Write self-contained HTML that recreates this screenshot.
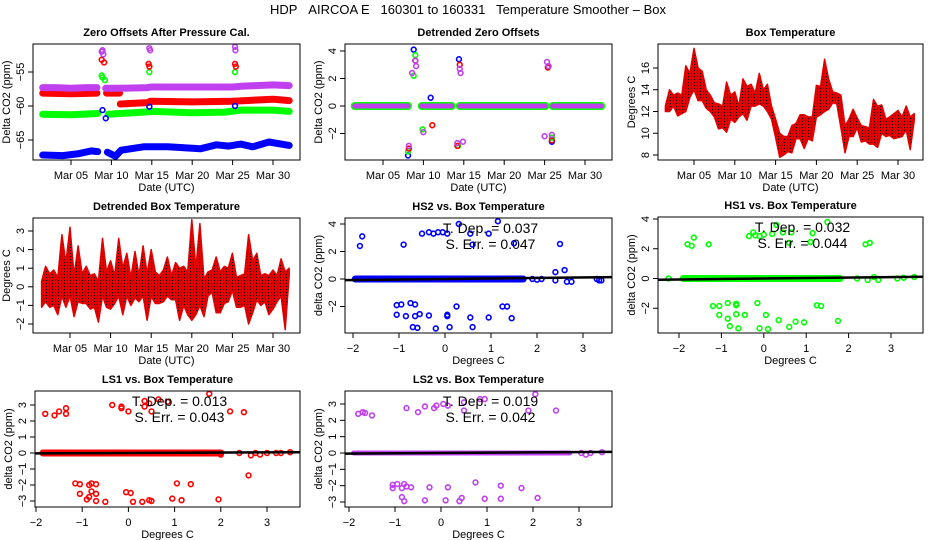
<!DOCTYPE html>
<html><head><meta charset="utf-8"><style>
html,body{margin:0;padding:0;background:#fff;}
svg{display:block;font-family:"Liberation Sans",sans-serif;}
</style></head><body>
<svg id="fig" width="936" height="540" viewBox="0 0 936 540">
<defs>
<pattern id="hatch" width="3" height="3" patternUnits="userSpaceOnUse"><rect width="3" height="3" fill="#e00000"/><rect x="1" y="1" width="1" height="1" fill="#000"/></pattern>
</defs>
<text x="468" y="14" text-anchor="middle" font-size="13">HDP&#160;&#160;&#160;AIRCOA E&#160;&#160;&#160;160301 to 160331&#160;&#160;&#160;Temperature Smoother – Box</text>
</svg>
<script>
// ---------- Data ----------
const dateTicks = [5,10,15,20,25,30];
const dateTickLabels = ["Mar 05","Mar 10","Mar 15","Mar 20","Mar 25","Mar 30"];
// Panel 1: zero offsets
const zMagX = [1.5,3,5,7,8.2,null,9.3,11,14.5,14.9,20,25,26,30,32];
const zMagY = [-57.3,-57.3,-57.4,-57.3,-57.3,null,-57.4,-57.4,-57.3,-57.2,-57.2,-57.2,-57.1,-56.9,-57.0];
const zRedX = [1.5,5,8.2,null,9.4,11,null,11.1,14.5,null,14.8,20,25,30,32];
const zRedY = [-58.1,-58.2,-58.1,null,-58.1,-58.1,null,-59.7,-59.5,null,-59.3,-59.4,-59.3,-59.0,-59.2];
const zGrnX = [1.5,5,8.3,null,9.6,14,15,20,24,26,30,32];
const zGrnY = [-61.2,-61.3,-61.1,null,-61.2,-60.9,-60.8,-61.0,-60.9,-60.6,-60.6,-60.8];
const zBluX = [1.5,4,6,7.5,8.3,null,9.5,10.5,11.2,14,17,21,23,24.5,26,27.5,29.5,32];
const zBluY = [-67.2,-67.3,-67.0,-66.6,-66.7,null,-66.8,-67.4,-66.5,-66.0,-66.0,-66.3,-65.7,-65.9,-65.6,-66.0,-65.3,-65.8];
const zSpkMagX=[8.8,8.9,9.0,14.7,14.8,25.3,25.35]; const zSpkMagY=[-52,-51.8,-52.4,-51.5,-51.8,-51.3,-51.8];
const zSpkRedX=[8.8,9.1,14.6,14.7,25.3,25.4]; const zSpkRedY=[-53.2,-53.6,-53.8,-54.2,-53.8,-54.2];
const zSpkGrnX=[8.8,8.9,9.2,14.7,25.3]; const zSpkGrnY=[-55.5,-55.8,-56.2,-55.0,-55.0];
const zSpkBluX=[8.9,9.3,14.7,25.3]; const zSpkBluY=[-60.6,-61.8,-60.1,-60.0];
// Panel 2: detrended zero offsets
const dzSegStart=[1.5,9.8,14.5,26.0]; const dzSegEnd=[8.1,13.5,25.1,32.0];
const dzBluX=[8.1,8.8,14.4,10.9,25.9]; const dzBluY=[-3.6,4.1,3.4,0.6,-2.6];
const dzGrnX=[8.1,8.8,9.0,9.9,14.3,25.9]; const dzGrnY=[-3.3,2.2,3.7,-1.7,-2.9,-2.3];
const dzRedX=[8.2,9.0,11.1,14.5,14.2,25.4,25.9]; const dzRedY=[-3.1,3.3,-1.4,3.0,-2.9,2.8,-2.5];
const dzMagX=[8.2,8.6,9.0,9.1,10.0,14.5,14.6,14.9,14.2,25.3,25.5,25.0,25.9]; const dzMagY=[-2.9,2.4,3.3,2.9,-1.9,2.7,2.4,-2.6,-2.7,3.2,2.9,-2.2,-2.1];
// Panel 3: box temperature (half-day low/high), days 1.5..32
const btLo=[12,12,12.5,11.6,11.8,12,13.3,14,13,13,12.3,12,11.5,10.4,10.5,10.1,11.3,11,11.5,11.8,11.2,12.5,12.5,12.7,12.5,12,11.3,9.6,7.8,8,8.3,8.2,9.5,9.5,8.6,9.5,9.3,11.5,11.7,12,12.2,12.8,12.7,10.5,8.2,9.7,9.7,10.5,9.2,9.3,9,9,8.7,10,9.7,9.8,9.5,9.6,9.7,10.3,8.5,11.2];
const btHi=[12.5,14,13.5,13.7,13.5,16.2,15.5,17.8,16,15.7,14,13.5,12.8,12.7,12.5,14.7,13.5,13.8,12.5,15,14.3,14.5,13.7,15.5,14,14.5,12.5,11.3,10,9.7,9.7,10.7,10.9,11.7,11.7,11.5,11.5,14.4,14.3,16.8,15,13.8,13.7,13.5,10.7,11.3,12.2,11.4,10.7,10.6,10.5,13.1,12.5,12.6,11.3,11.5,11.8,12.1,11.5,12.5,11.5,11.8];
// Panel 4: detrended box temperature
const dtLo=[-1.1,-0.8,-1.1,-1,-1.5,-0.5,-1.1,-0.5,-1.6,-0.8,-0.9,-0.9,-1.2,-1.1,-1.9,-0.5,-1.1,-1.2,-0.9,-0.5,-1.5,-0.5,-1,-0.6,-0.8,-0.5,-1.8,-0.5,-0.9,-0.9,-0.8,-0.5,-0.7,-0.7,-1.8,-1,-1.5,-1.8,-1.5,-1,-1.6,-0.5,-0.3,-1.4,-1.4,-0.9,-0.8,-0.2,-1.1,-1.1,-1,-2,-1.4,-0.7,-1,-0.8,-1.5,-1.2,-0.8,-0.5,-2.3,0.6];
const dtHi=[0.3,1.1,0.7,0.9,0.5,2.8,1.3,3.2,0.6,2.2,0.7,1.1,0.6,0.7,0.3,2.6,0.8,1.4,0.6,2.6,1,1.8,0.5,1.9,0.6,2.2,0.7,2,0.8,0.6,0.9,1.6,0.6,1.3,1,1.1,0.8,3.6,1,3.4,0.4,0.8,0.9,1.6,0.8,1.1,1,1.8,0.5,0.6,0.7,2.8,1.4,1.8,0.6,0.7,0.6,0.9,0.6,1.5,0.8,1.0];
// Scatter panels
const hs2X=[-1.8,-1.85,-0.9,-0.5,-0.35,-0.25,-0.15,-0.05,0.05,0.3,0.55,0.6,0.95,1.15,1.5,2.5,2.4,2.6,-1.05,-0.95,-0.75,-0.65,-1.05,-0.85,-0.65,-0.55,-0.35,0.05,0.05,-0.7,-0.6,-0.2,0.1,0.6,0.55,0.95,1.45,1.25,1.35,0.25,1.9,2.0,2.1,2.4,2.65,2.75,3.3,3.35,3.4];
const hs2Y=[3.1,2.4,2.5,3.3,3.4,3.3,3.4,3.4,3.3,4.0,3.3,2.5,3.3,4.2,2.6,2.55,0.5,0.65,-1.9,-1.85,-1.75,-1.85,-2.6,-2.7,-2.7,-2.55,-2.65,-2.7,-2.6,-3.5,-3.55,-3.6,-3.5,-3.5,-2.8,-2.8,-2.85,-2,-2,-2,0,-0.05,0,-0.1,-0.2,-0.2,0,-0.1,-0.1];
const hs1X=[-1.8,-1.7,-1.65,-1.3,-0.35,-0.25,-0.2,-0.1,0,0.2,0.3,0.45,0.65,0.6,1.15,1.1,1.5,2.4,2.5,-1.2,-1.05,-0.85,-0.65,-0.65,-0.15,-1.05,-0.85,-0.8,-0.65,-0.45,-0.6,-0.1,0.05,0.1,0.35,0.6,0.75,0.95,1.25,1.35,1.75,-2.25,2.2,2.45,2.6,2.7,3.15,3.3,3.55];
const hs1Y=[2.3,2.2,2.75,2.3,2.85,3.1,2.9,2.85,2.95,3.0,3.6,3.1,3.1,2.4,3.05,2.45,3.8,2.3,2.4,-1.85,-1.85,-1.65,-1.8,-1.7,-1.65,-2.45,-2.7,-3.2,-2.4,-2.45,-3.35,-3.35,-2.45,-3.4,-2.8,-3.25,-2.9,-2.95,-1.8,-1.85,-2.85,0,0,-0.1,0.1,-0.1,0,0.05,0.1];
const ls1X=[-1.8,-1.6,-1.5,-1.35,-1.35,-0.35,-0.15,-0.15,0,0.35,0.35,0.45,0.5,0.65,0.85,1.75,2.2,2.5,2.6,-1.15,-1.05,-0.8,-0.85,-0.7,-1.05,-0.8,-0.7,-0.85,-0.9,-0.7,-0.5,-0.05,0.05,0.1,0.3,0.45,0.5,0.95,1.05,1.15,1.35,1.95,2.0,2.4,2.65,2.75,2.85,3.0,3.2,3.3,3.5];
const ls1Y=[2.45,2.35,2.6,2.8,2.45,3.0,2.9,2.8,2.6,2.9,3.25,3.1,2.6,3.35,3.2,3.7,2.6,2.55,-1.4,-1.9,-1.95,-1.9,-2,-1.95,-2.55,-2.4,-2.55,-2.75,-2.9,-3.0,-3.05,-2.45,-2.5,-3.05,-3.05,-2.95,-3.0,-2.85,-1.9,-2.95,-1.95,-2.9,-0.1,0,-0.15,0,-0.1,0,0,0,0.05];
const ls2X=[-1.8,-1.7,-1.65,-1.5,-0.75,-0.5,-0.35,-0.15,-0.1,0.05,0.15,0.5,0.5,0.85,0.95,1.9,2.05,2.5,-1.05,-1.05,-0.95,-0.8,-0.75,-0.65,-0.85,-0.85,-0.8,-0.25,0.15,-0.35,0.1,0.4,0.45,0.75,0.95,1.3,1.3,1.75,2.1,3.05,3.15,3.25,3.5];
const ls2Y=[2.4,2.5,2.45,2.3,2.75,2.5,2.85,2.75,2.9,3.0,2.9,3.1,2.6,3.3,3.3,2.6,3.6,2.6,-1.95,-2.15,-1.9,-1.9,-2.05,-2.1,-2.15,-2.7,-2.95,-2.1,-2.1,-2.9,-2.9,-2.95,-2.75,-1.8,-2.8,-2.0,-2.8,-2.15,-2.75,0,-0.1,0,0.05];
const clusterMin=[-1.95,-1.9,-1.85,-1.9]; const clusterMax=[1.7,1.8,2.0,2.8];
const slopes=[0.037,0.032,0.013,0.019]; const intercepts=[0.0,0.0,0.0,0.0];
const stErr=[0.047,0.044,0.043,0.042];

// ---------- Drawing ----------
const svg=document.getElementById('fig');
const NS='http://www.w3.org/2000/svg';
function mk(tag,attrs,parent){const e=document.createElementNS(NS,tag);for(const k in attrs)e.setAttribute(k,attrs[k]);(parent||svg).appendChild(e);return e;}
function lin(d0,d1,r0,r1){return v=>r0+(v-d0)*(r1-r0)/(d1-d0);}

function panel(c){
  const g=mk('g',{});
  
  
  const sx=lin(c.xd[0],c.xd[1],c.xr[0],c.xr[1]), sy=lin(c.yd[0],c.yd[1],c.yr[0],c.yr[1]);
  const [L,T,R,B]=c.box;
  const t=mk('text',{x:(L+R)/2,y:T-8,'text-anchor':'middle','font-size':11,'font-weight':'bold'},g);t.textContent=c.title;
  
  
  const plot=mk('g',{},g);
  
  
  const xa=mk('g',{},g);
  
  
  mk('line',{x1:sx(c.xt[0]),x2:sx(c.xt[c.xt.length-1]),y1:B,y2:B,stroke:'#000'},xa);
  c.xt.forEach((v,i)=>{mk('line',{x1:sx(v),x2:sx(v),y1:B,y2:B+5,stroke:'#000'},xa);
    const tx=mk('text',{x:sx(v),y:B+19,'text-anchor':'middle','font-size':11},xa);tx.textContent=c.xl[i];});
  const xt=mk('text',{x:(L+R)/2,y:B+31,'text-anchor':'middle','font-size':11},g);xt.textContent=c.xlab;
  
  
  const ya=mk('g',{},g);
  
  
  mk('line',{x1:L,x2:L,y1:sy(c.yt[0]),y2:sy(c.yt[c.yt.length-1]),stroke:'#000'},ya);
  c.yt.forEach(v=>{mk('line',{x1:L,x2:L-5,y1:sy(v),y2:sy(v),stroke:'#000'},ya);
    const tx=mk('text',{x:0,y:0,'text-anchor':'middle','font-size':11,transform:`translate(${L-9},${sy(v)}) rotate(-90)`},ya);
    tx.textContent=v<0?'\u2212'+(-v):String(v);});
  const yt=mk('text',{x:0,y:0,'text-anchor':'middle','font-size':11,transform:`translate(${L-23},${(T+B)/2}) rotate(-90)`},g);yt.textContent=c.ylab;
  
  
  const clip='clip'+c.name;
  const cp=mk('clipPath',{id:clip},g);mk('rect',{x:L,y:T,width:R-L,height:B-T},cp);
  plot.setAttribute('clip-path',`url(#${clip})`);
  mk('rect',{x:L,y:T,width:R-L,height:B-T,fill:'none',stroke:'#000'},g);
  return {sx,sy,plot,L,R,T,B,g};
}
function pts(p,xs,ys,col,name){xs.forEach((x,i)=>{if(x===null)return;
  const c=mk('circle',{cx:p.sx(x),cy:p.sy(ys[i]),r:2.4,fill:'none',stroke:col,'stroke-width':1.6},p.plot);
  
  });}
function band(p,xs,ys,col,w,name){let d='',pen=false;xs.forEach((x,i)=>{if(x===null){pen=false;return;}
  d+=(pen?'L':'M')+p.sx(x).toFixed(1)+','+p.sy(ys[i]).toFixed(1);pen=true;});
  const e=mk('path',{d,fill:'none',stroke:col,'stroke-width':w,'stroke-linecap':'round','stroke-linejoin':'round'},p.plot);
  
  }

const dateAxis={xt:dateTicks,xl:dateTickLabels,xd:[5,30],xlab:'Date (UTC)'};
let p=panel(Object.assign({name:'zero-offsets-panel',title:'Zero Offsets After Pressure Cal.',xr:[71,273],yd:[-60,-55],yr:[106,72],box:[33,44,300,160],yt:[-65,-60,-55],ylab:'Delta CO2 (ppm)'},dateAxis));
band(p,zBluX,zBluY,'#0000ff',7,'series-blue');band(p,zGrnX,zGrnY,'#00ff00',7,'series-green');
band(p,zRedX,zRedY,'#ff0000',7,'series-red');band(p,zMagX,zMagY,'#c040f0',7,'series-magenta');
pts(p,zSpkBluX,zSpkBluY,'#0000ff','spike-blue');pts(p,zSpkGrnX,zSpkGrnY,'#00ff00','spike-green');
pts(p,zSpkRedX,zSpkRedY,'#ff0000','spike-red');pts(p,zSpkMagX,zSpkMagY,'#c040f0','spike-magenta');
p=panel(Object.assign({name:'detrended-zero-offsets-panel',title:'Detrended Zero Offsets',xr:[383,585],yd:[0,4],yr:[106,51],box:[345,44,612,160],yt:[-2,0,2,4],ylab:'Delta CO2 (ppm)'},dateAxis));
dzSegStart.forEach((s,i)=>{band(p,[s,dzSegEnd[i]],[0,0],'#00ff00',8,'segment-green');band(p,[s,dzSegEnd[i]],[0,0],'#c040f0',5,'segment-magenta');});
pts(p,dzBluX,dzBluY,'#0000ff','outlier-blue');pts(p,dzGrnX,dzGrnY,'#00ff00','outlier-green');
pts(p,dzRedX,dzRedY,'#ff0000','outlier-red');pts(p,dzMagX,dzMagY,'#c040f0','outlier-magenta');
function rangeBand(p,lo,hi,name){const xs=lo.map((_,i)=>1.5+i*0.5);let d='M';
  xs.forEach((x,i)=>{d+=(i?'L':'')+p.sx(x).toFixed(1)+','+p.sy(hi[i]).toFixed(1);});
  for(let i=xs.length-1;i>=0;i--)d+='L'+p.sx(xs[i]).toFixed(1)+','+p.sy(lo[i]).toFixed(1);d+='Z';
  const e=mk('path',{d,fill:'url(#hatch)',stroke:'#e00000','stroke-width':1.5,'stroke-linejoin':'round'},p.plot);
  
  }
p=panel(Object.assign({name:'box-temperature-panel',title:'Box Temperature',xr:[694,898],yd:[8,16],yr:[155,68],box:[658,44,923,160],yt:[8,10,12,14,16],ylab:'Degrees C'},dateAxis));
rangeBand(p,btLo,btHi,'box-temperature-series');
p=panel(Object.assign({name:'detrended-box-temperature-panel',title:'Detrended Box Temperature',xr:[70,273],yd:[-2,3],yr:[324,231],box:[33,218,300,333],yt:[-2,-1,0,1,2,3],ylab:'Degrees C'},dateAxis));
rangeBand(p,dtLo,dtHi,'detrended-temperature-series');
const sc=[
 {name:'hs2-panel',title:'HS2 vs. Box Temperature',xr:[353,583],yd:[0,4],yr:[279,224],box:[345,218,612,333],yt:[-2,0,2,4],col:'#0000ff',xs:hs2X,ys:hs2Y,bw:7},
 {name:'hs1-panel',title:'HS1 vs. Box Temperature',xr:[679,891],yd:[0,4],yr:[278.5,219],box:[658,217,923,333],yt:[-2,0,2,4],col:'#00ff00',xs:hs1X,ys:hs1Y,bw:7},
 {name:'ls1-panel',title:'LS1 vs. Box Temperature',xr:[36,267],yd:[-3,3],yr:[501,405],box:[35,391,300,507],yt:[-3,-2,-1,0,1,2,3],col:'#ff0000',xs:ls1X,ys:ls1Y,bw:7},
 {name:'ls2-panel',title:'LS2 vs. Box Temperature',xr:[349,579],yd:[-3,3],yr:[502,404],box:[345,391,612,507],yt:[-3,-2,-1,0,1,2,3],col:'#c040f0',xs:ls2X,ys:ls2Y,bw:5}];
sc.forEach((c,k)=>{
  const q=panel(Object.assign({xt:[-2,-1,0,1,2,3],xl:['\u22122','\u22121','0','1','2','3'],xd:[-2,3],xlab:'Degrees C',ylab:'delta CO2 (ppm)'},c));
  band(q,[clusterMin[k],clusterMax[k]],[0,0],c.col,c.bw,'cluster-band');
  pts(q,c.xs,c.ys,c.col,'scatter-point');
  const x0=-3,x1=5;
  const ln=mk('line',{x1:q.sx(x0),y1:q.sy(intercepts[k]+slopes[k]*x0),x2:q.sx(x1),y2:q.sy(intercepts[k]+slopes[k]*x1),stroke:'#000','stroke-width':2.5},q.plot);
  
  
  const cx=(q.L+q.R)/2+12;
  const a=mk('text',{x:cx,y:q.T+15,'text-anchor':'middle','font-size':14},q.g);a.textContent='T. Dep. =  '+slopes[k].toFixed(3);
  
  
  const b=mk('text',{x:cx,y:q.T+31,'text-anchor':'middle','font-size':14},q.g);b.textContent='S. Err. =  '+stErr[k].toFixed(3);
  
  
});
</script>
</body></html>
